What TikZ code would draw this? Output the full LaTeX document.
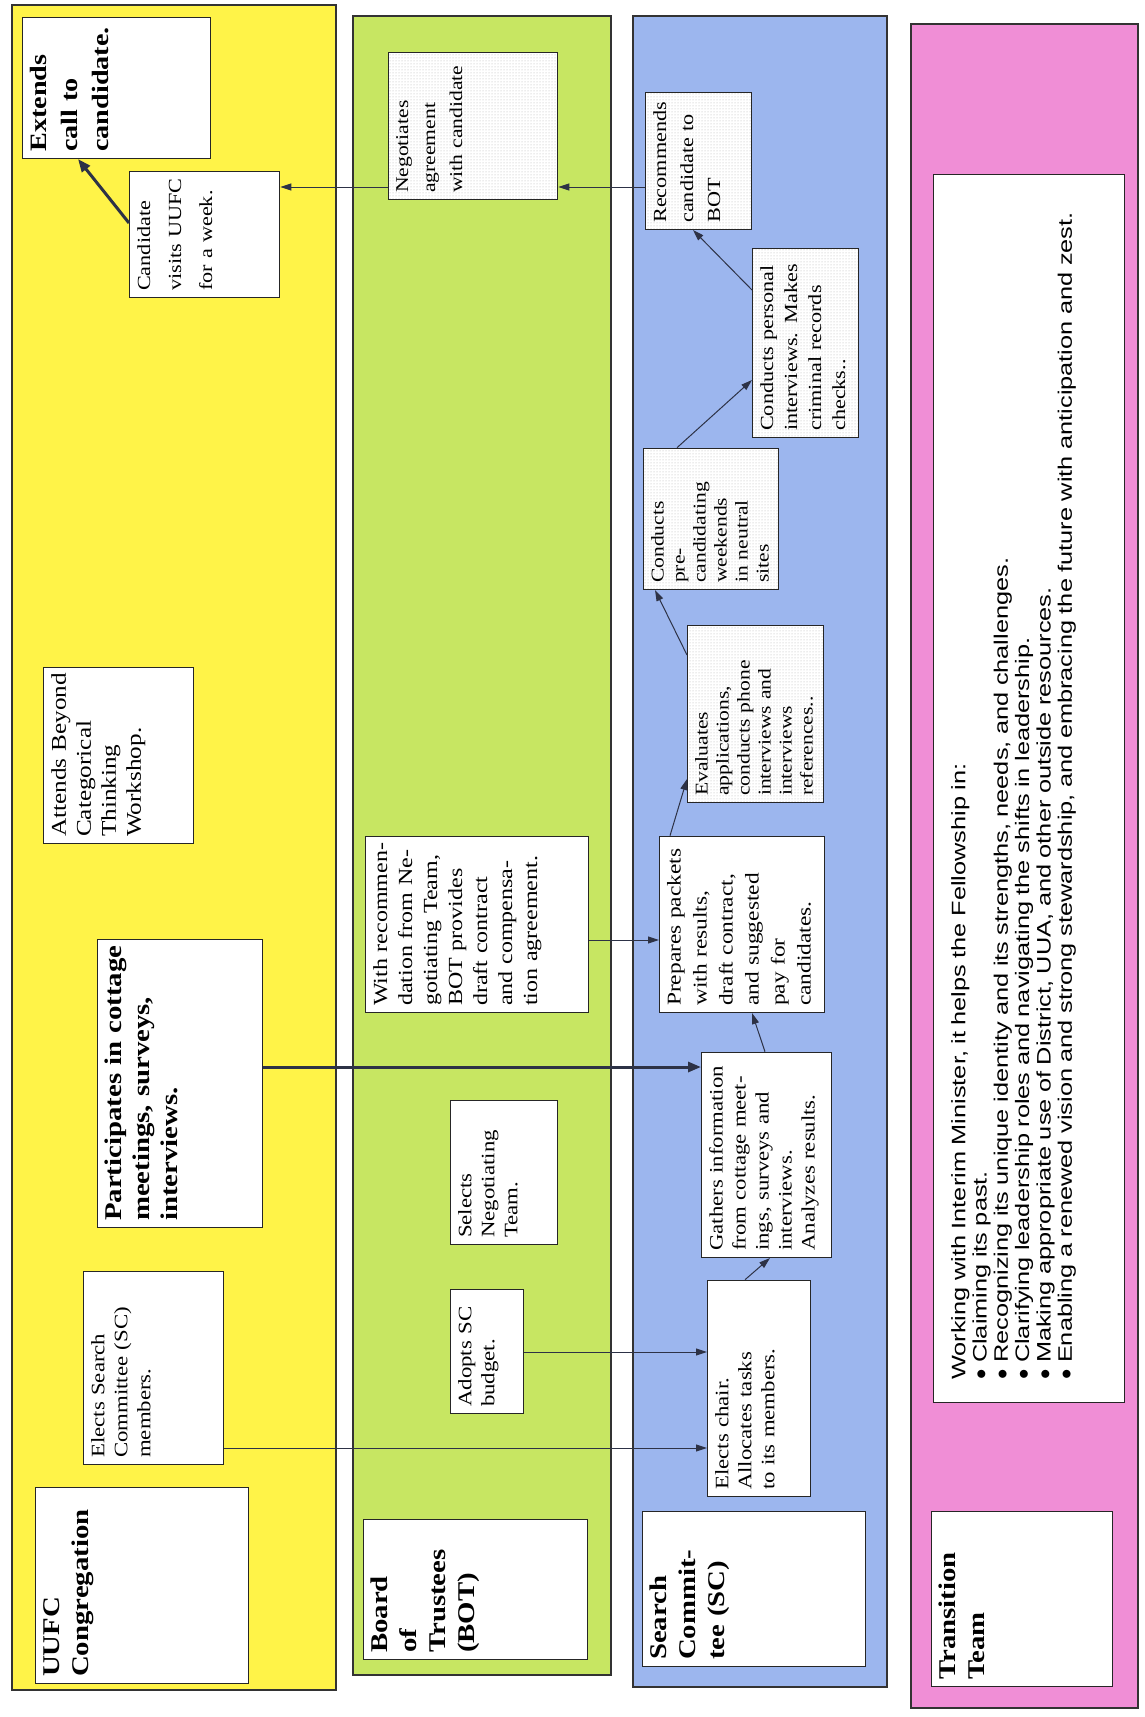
\documentclass[tikz,border=0pt]{standalone}
\usepackage{fontspec}
\setmainfont{Liberation Serif}[FakeStretch=1.2]
\newfontfamily\notesans{Liberation Sans}[FakeStretch=1.3]
\usetikzlibrary{arrows.meta,patterns,positioning}

\definecolor{laneyellow}{RGB}{255,243,72}
\definecolor{lanegreen}{RGB}{199,230,98}
\definecolor{laneblue}{RGB}{156,182,238}
\definecolor{lanepink}{RGB}{240,142,214}
\definecolor{inkline}{RGB}{45,50,70}

\newcommand{\setfs}[2]{\fontsize{#1}{#2}\selectfont}

\tikzset{
  lane/.style={draw=black!80, line width=1.3pt},
  panel/.style={draw=black!85, line width=1.3pt, fill=white, rotate=90,
    anchor=north west, inner sep=0pt},
  dotpanel/.style={panel, preaction={fill=white}, pattern=dots, pattern color=black!30},
  paneltext/.style={rotate=90, anchor=north west, align=left, text width=420pt,
    inner xsep=7pt, inner ysep=8pt},
  flow/.style={draw=inkline, line width=1pt, -{Triangle[length=11pt,width=7pt]}},
  boldflow/.style={draw=inkline, line width=3pt, -{Triangle[length=13pt,width=10pt]}}
}

\begin{document}
\begin{tikzpicture}[x=1pt, y=-1pt]
\useasboundingbox (0,0) rectangle (1144,1717);

% Lanes
\filldraw[lane, fill=laneyellow] (12,5) rectangle (336,1690);
\filldraw[lane, fill=lanegreen] (353,16) rectangle (611,1675);
\filldraw[lane, fill=laneblue] (633,16) rectangle (887,1687);
\filldraw[lane, fill=lanepink] (911,24) rectangle (1138,1708);

% UUFC Congregation
\node[panel, minimum width=196pt, minimum height=213pt] (uufc) at (35,1684) {};
\node[paneltext, font=\bfseries\setfs{24}{29}] (uufctxt) at (uufc.north west) {UUFC\\Congregation};
\node[panel, minimum width=193pt, minimum height=140pt] (elects) at (83,1465) {};
\node[paneltext, font=\setfs{19}{23}] (electstxt) at (elects.north west) {Elects Search\\Committee (SC)\\members.};
\node[panel, minimum width=288pt, minimum height=165pt] (particip) at (97,1228) {};
\node[paneltext, font=\bfseries\setfs{24}{28}] (participtxt) at (particip.north west) {Participates in cottage\\meetings, surveys,\\interviews.};
\node[panel, minimum width=176pt, minimum height=150pt] (attends) at (43,844) {};
\node[paneltext, font=\setfs{21}{25}] (attendstxt) at (attends.north west) {Attends Beyond\\Categorical\\Thinking\\Workshop.};
\node[panel, minimum width=126pt, minimum height=150pt] (cand) at (129,298) {};
\node[paneltext, font=\setfs{18.5}{31}] (candtxt) at (cand.north west) {Candidate\\visits UUFC\\for a week.};
\node[panel, minimum width=141pt, minimum height=188pt] (extend) at (22,159) {};
\node[paneltext, font=\bfseries\setfs{23.5}{31}] (extendtxt) at (extend.north west) {Extends\\call to\\candidate.};

% Board of Trustees
\node[panel, minimum width=140pt, minimum height=224pt] (bot) at (363,1660) {};
\node[paneltext, font=\bfseries\setfs{24}{29}] (bottxt) at (bot.north west) {Board\\of\\Trustees\\(BOT)};
\node[panel, minimum width=124pt, minimum height=73pt] (adopts) at (450,1414) {};
\node[paneltext, font=\setfs{19}{23}] (adoptstxt) at (adopts.north west) {Adopts SC\\budget.};
\node[panel, minimum width=144pt, minimum height=107pt] (selects) at (450,1245) {};
\node[paneltext, font=\setfs{19}{23}] (selectstxt) at (selects.north west) {Selects\\Negotiating\\Team.};
\node[panel, minimum width=176pt, minimum height=223pt] (withrec) at (365,1013) {};
\node[paneltext, font=\setfs{20}{25}] (withrectxt) at (withrec.north west) {With recommen-\\dation from Ne-\\gotiating Team,\\BOT provides\\draft contract\\and compensa-\\tion agreement.};
\node[dotpanel, minimum width=147pt, minimum height=169pt] (nego) at (388,200) {};
\node[paneltext, font=\setfs{18}{27}] (negotxt) at (nego.north west) {Negotiates\\agreement\\with candidate};

% Search Committee
\node[panel, minimum width=155pt, minimum height=223pt] (sc) at (642,1667) {};
\node[paneltext, font=\bfseries\setfs{24}{29}] (sctxt) at (sc.north west) {Search\\Commit-\\tee (SC)};
\node[panel, minimum width=216pt, minimum height=103pt] (chair) at (707,1497) {};
\node[paneltext, font=\setfs{19}{23}] (chairtxt) at (chair.north west) {Elects chair.\\Allocates tasks\\to its members.};
\node[panel, minimum width=205pt, minimum height=130pt] (gathers) at (701,1258) {};
\node[paneltext, font=\setfs{19}{23}] (gatherstxt) at (gathers.north west) {Gathers information\\from cottage meet-\\ings, surveys and\\interviews.\\Analyzes results.};
\node[panel, minimum width=176pt, minimum height=165pt] (prepares) at (659,1013) {};
\node[paneltext, font=\setfs{19.5}{26}] (preparestxt) at (prepares.north west) {Prepares packets\\with results,\\draft contract,\\and suggested\\pay for\\candidates.};
\node[dotpanel, minimum width=177pt, minimum height=136pt] (evaluates) at (687,803) {};
\node[paneltext, font=\setfs{18}{21}] (evaluatestxt) at (evaluates.north west) {Evaluates\\applications,\\conducts phone\\interviews and\\interviews\\references..};
\node[dotpanel, minimum width=141pt, minimum height=135pt] (precand) at (643,590) {};
\node[paneltext, font=\setfs{18}{21}] (precandtxt) at (precand.north west) {Conducts\\pre-\\candidating\\weekends\\in neutral\\sites};
\node[dotpanel, minimum width=189pt, minimum height=106pt] (personal) at (752,438) {};
\node[paneltext, font=\setfs{18.5}{24}] (personaltxt) at (personal.north west) {Conducts personal\\interviews. Makes\\criminal records\\checks..};
\node[dotpanel, minimum width=137pt, minimum height=106pt] (recomm) at (645,230) {};
\node[paneltext, font=\setfs{18.5}{27}] (recommtxt) at (recomm.north west) {Recommends\\candidate to\\BOT};

% Transition Team
\node[panel, minimum width=175pt, minimum height=181pt] (trans) at (931,1687) {};
\node[paneltext, font=\bfseries\setfs{24}{29}] (transtxt) at (trans.north west) {Transition\\Team};
\node[panel, minimum width=1228pt, minimum height=191pt] (helps) at (933,1403) {};
\node[paneltext, text width=1220pt, font=\notesans\setfs{19.5}{21.3}] (helpstxt)
  at ([yshift=16pt, xshift=10pt]helps.north west)
  {Working with Interim Minister, it helps the Fellowship in:\\
   $\bullet$ Claiming its past.\\
   $\bullet$ Recognizing its unique identity and its strengths, needs, and challenges.\\
   $\bullet$ Clarifying leadership roles and navigating the shifts in leadership.\\
   $\bullet$ Making appropriate use of District, UUA, and other outside resources.\\
   $\bullet$ Enabling a renewed vision and strong stewardship, and embracing the future with anticipation and zest.};

% Connectors
\draw[flow] (elects.south |- 0,1448) -- (chair.north |- 0,1448);
\draw[flow] (adopts.south |- 0,1352) -- (chair.north |- 0,1352);
\draw[boldflow] (particip.south |- 0,1067) -- (gathers.north |- 0,1067);
\draw[flow] (withrec.south |- 0,940) -- (prepares.north |- 0,940);
\draw[flow] (chair.east -| 745,0) -- (gathers.west -| 770,0);
\draw[flow] (gathers.east -| 765,0) -- (prepares.west -| 752,0);
\draw[flow] (prepares.east -| 670,0) -- (evaluates.north |- 0,779);
\draw[flow] (evaluates.north |- 0,655) -- (precand.west -| 655,0);
\draw[flow] (precand.east -| 677,0) -- (personal.north |- 0,380);
\draw[flow] (personal.north |- 0,290) -- (recomm.west -| 693,0);
\draw[flow] (recomm.north |- 0,187) -- (nego.south |- 0,187);
\draw[flow] (nego.north |- 0,187) -- (cand.south |- 0,187);
\draw[boldflow] (cand.north |- 0,223) -- (extend.west -| 78,0);
\end{tikzpicture}
\end{document}
